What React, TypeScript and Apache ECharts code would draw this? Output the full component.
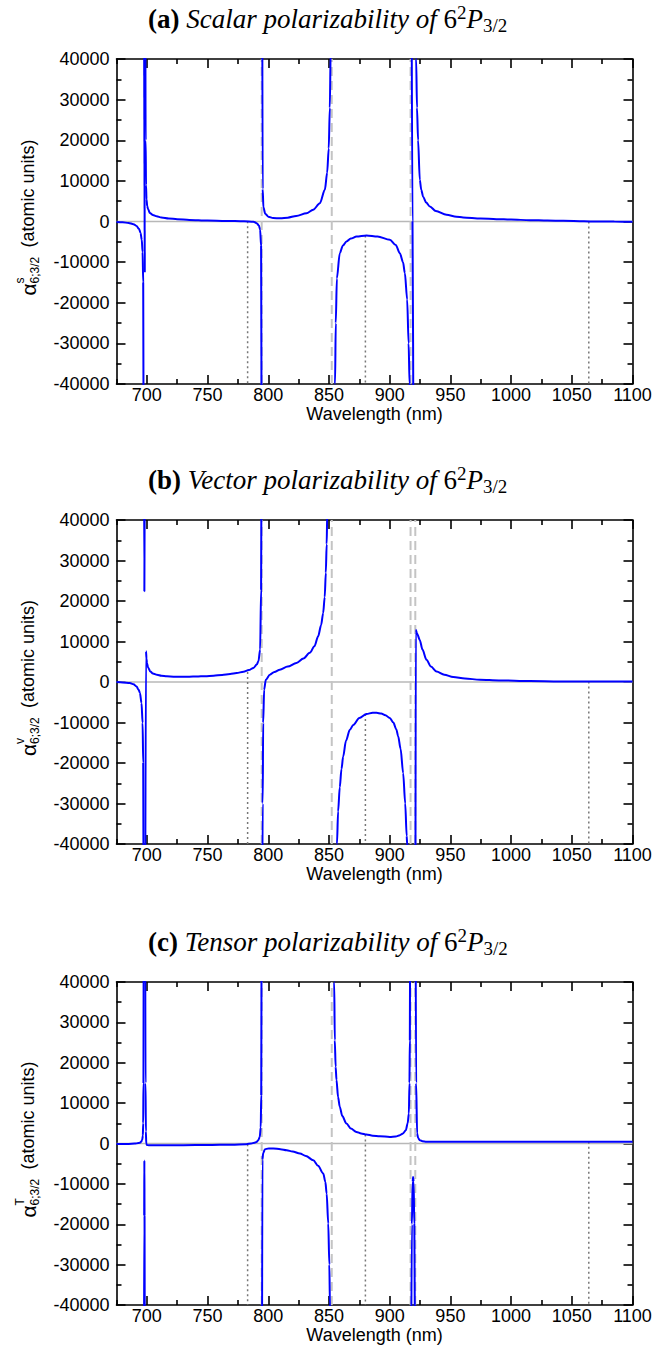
import React, { useEffect, useRef } from "react";
import * as echarts from "echarts";

// ---------- axis ticks ----------
const xMajorTicks = [700, 750, 800, 850, 900, 950, 1000, 1050, 1100];
const xMinorTicks = [675, 725, 775, 825, 875, 925, 975, 1025, 1075];
const xMin = 675;
const xMax = 1100;
const yMin = -40000;
const yMax = 40000;
const yStep = 10000;

// ---------- panel titles ----------
const panelLetters = ["(a)", "(b)", "(c)"];
const panelKinds = ["Scalar", "Vector", "Tensor"];
const panelSups = ["s", "v", "T"];

// ---------- reference lines ----------
const resonancesA = [794.6, 852.3, 917.2];
const resonancesB = [794.6, 852.3, 917.2, 921.1];
const resonancesC = [794.6, 852.3, 917.2, 921.1];
const magicA = [[783, 50], [880, -3450], [1064, 0]];
const magicB = [[783, 2500], [880, -7900], [1064, 100]];
const magicC = [[783, -170], [880, 2230], [1064, 450]];

// ---------- (a) scalar polarizability segments ----------
const scalar1 = [[675, -100], [680, -200], [685, -350], [689, -650], [691.5, -1100], [693.5, -1800], [694.8, -2800], [695.8, -4500], [696.5, -7500], [697.0, -15000], [697.3, -60000]];
const scalar2 = [[697.6, 60000], [698.3, -12500]];
const scalar3 = [[698.7, 60000], [699.0, 20000], [699.3, 9000], [699.7, 5500], [700.3, 3800], [701, 3000], [702.5, 2100], [705, 1600], [708, 1300], [712, 1000], [718, 750], [725, 550], [735, 400], [750, 250], [765, 150], [780, 60], [787.8, -50], [790.5, -400], [792.3, -1000], [793.3, -2000], [794.1, -6000], [794.5, -60000]];
const scalar4 = [[795.0, 60000], [795.4, 8000], [796, 3500], [797.5, 1900], [800, 1200], [804, 850], [810, 800], [816, 950], [823, 1350], [831.5, 2050], [837, 2900], [842.5, 4500], [846.6, 7800], [848.5, 12000], [849.8, 18000], [850.7, 28000], [851.4, 42000], [851.7, 60000]];
const scalar5 = [[854.5, -60000], [855, -40000], [855.6, -25000], [856.5, -14000], [858.9, -7800], [861.5, -5900], [864.4, -4900], [868, -4200], [872.7, -3700], [880.9, -3450], [890, -3700], [900.1, -4500], [905, -5800], [908.4, -7800], [911, -10000], [912.5, -12700], [914.4, -19200], [915.6, -30000], [916.4, -40000], [916.9, -60000]];
const scalar6 = [[918.0, 60000], [918.8, 0], [919.6, -60000]];
const scalar7 = [[921.3, 60000], [921.8, 40000], [922.5, 28000], [923.4, 20000], [924.8, 10300], [926, 7800], [927.6, 6100], [930, 4700], [933.1, 3700], [938, 2600], [946.8, 1650], [955, 1200], [960.5, 1000], [975, 750], [988, 580], [1000, 470], [1015.5, 330], [1030, 230], [1043, 160], [1060, 60], [1070, 0], [1085, -30], [1100, -50]];

// ---------- (b) vector polarizability segments ----------
const vector1 = [[675, 0], [680, -100], [686, -250], [689, -550], [691.5, -1100], [693.2, -1900], [694.3, -2700], [695.6, -5200], [696.5, -10100], [697.0, -20000], [697.3, -60000]];
const vector2 = [[697.6, 60000], [697.95, 22400], [698.3, 60000]];
const vector3 = [[698.6, -60000], [699.3, 7600], [699.7, 5800], [700.1, 4700], [701, 3600], [702.8, 2600], [705, 2100], [708.3, 1800], [712, 1550], [716.5, 1400], [722, 1320], [727.5, 1300], [735, 1310], [741, 1350], [748, 1450], [755, 1560], [762, 1750], [768.6, 1970], [774, 2200], [779.6, 2540], [784, 2950], [787.8, 3460], [790.5, 4300], [791.9, 5100], [793.3, 8000], [794.1, 22800], [794.4, 60000]];
const vector4 = [[795.0, -60000], [795.4, -30000], [795.8, -10100], [796.6, -1900], [798, 570], [801.3, 1800], [805, 2500], [809.5, 3050], [816, 3800], [823.2, 4700], [829, 5800], [834.2, 7200], [838, 8800], [841.1, 11300], [843.5, 14000], [845.2, 17000], [846.5, 21000], [847.4, 27000], [848.1, 34000], [848.6, 42000], [849, 60000]];
const vector5 = [[856.3, -60000], [856.6, -40000], [857.5, -32000], [858.9, -26000], [860.3, -21500], [861.7, -18400], [864, -14500], [867.2, -11800], [870, -10600], [875, -8900], [880.9, -7900], [886, -7600], [889.2, -7600], [893, -7800], [896.5, -8200], [900.1, -8900], [903, -10000], [905.5, -11700], [907, -13400], [909, -16500], [911.1, -22500], [912.8, -30000], [914, -38000], [914.4, -40000], [914.8, -60000]];
const vector6 = [[921.2, -60000], [921.5, 12900], [922.5, 12000], [924.8, 10400], [927, 8000], [930.3, 5500], [934, 3800], [938.6, 2600], [945, 1800], [952.3, 1230], [962, 850], [974.3, 570], [990, 400], [1015.5, 250], [1040, 150], [1070.4, 100], [1100, 150]];

// ---------- (c) tensor polarizability segments ----------
const tensor1 = [[675, -150], [685, -100], [690, -30], [693, 100], [694.5, 250], [695.5, 500], [696.2, 900], [696.7, 2000], [697.0, 5000], [697.2, 15000], [697.4, 60000]];
const tensor2 = [[697.6, -60000], [697.8, -18000], [697.95, -4200], [698.1, -18000], [698.3, -60000]];
const tensor3 = [[698.6, 60000], [698.9, 15000], [699.2, 3000], [699.5, 0], [700, -350], [702, -450], [710, -450], [730, -420], [750, -380], [770, -280], [782, -170], [786, 0], [788.5, 200], [790.3, 400], [791.8, 800], [793, 1640], [793.8, 4000], [794.2, 12000], [794.5, 60000]];
const tensor4 = [[794.8, -60000], [795.2, -4000], [795.8, -2400], [797.3, -1400], [800, -1250], [804.2, -1240], [810, -1400], [815.2, -1660], [820, -2000], [826.1, -2480], [831, -3100], [837.1, -4130], [841, -5500], [845.3, -7430], [847, -9500], [848.1, -12400], [849.4, -19800], [850.3, -30000], [850.8, -40000], [851.2, -60000]];
const tensor5 = [[854.0, 60000], [854.3, 40000], [854.8, 25600], [855.5, 19000], [856.2, 15700], [857.5, 11500], [858.9, 9060], [861, 6800], [864.4, 4950], [868, 3700], [872.6, 2870], [876.5, 2500], [880.9, 2230], [886, 1950], [891.9, 1810], [900.1, 1640], [905, 1750], [908.4, 2050], [911, 2500], [913.3, 3290], [914.8, 5000], [915.8, 7430], [916.3, 15000], [916.6, 25600], [916.9, 60000]];
const tensor6 = [[917.6, -60000], [918.3, -20000], [918.9, -9500], [919.3, -8300], [919.7, -9500], [920.3, -20000], [920.9, -60000]];
const tensor7 = [[921.3, 60000], [921.8, 15000], [922.6, 2470], [923.5, 1300], [924.8, 820], [927, 550], [930.3, 450], [950, 450], [1000, 450], [1050, 450], [1100, 450]];

const panelSegments = [
  [scalar1, scalar2, scalar3, scalar4, scalar5, scalar6, scalar7],
  [vector1, vector2, vector3, vector4, vector5, vector6],
  [tensor1, tensor2, tensor3, tensor4, tensor5, tensor6, tensor7],
];
const panelResonances = [resonancesA, resonancesB, resonancesC];
const panelMagic = [magicA, magicB, magicC];

// ---------- layout ----------
const gridLeft = 116.5;
const gridWidth = 516;
const gridTops = [59, 520, 982];
const gridHeights = [325, 324, 323];
const FONT = "Liberation Sans";
const SERIF = "Liberation Serif";

function buildOption() {
  const grids: any[] = [];
  const xAxes: any[] = [];
  const yAxes: any[] = [];
  const series: any[] = [];
  const graphics: any[] = [];

  const black = { color: "#000", width: 1.6 };
  const plain = (v: number) => String(v);

  for (let p = 0; p < 3; p++) {
    grids.push({ left: gridLeft, top: gridTops[p], width: gridWidth, height: gridHeights[p], containLabel: false });
    const baseX = {
      type: "value", gridIndex: p, min: xMin, max: xMax,
      splitLine: { show: false },
    };
    xAxes.push({
      ...baseX, position: "bottom",
      axisLine: { show: true, onZero: false, lineStyle: black },
      axisTick: { show: true, inside: true, length: 9, customValues: xMajorTicks, lineStyle: black },
      axisLabel: { show: true, customValues: xMajorTicks, formatter: plain, margin: 2, fontSize: 18, color: "#000", fontFamily: FONT },
      name: "Wavelength (nm)", nameLocation: "middle", nameGap: 14,
      nameTextStyle: { fontSize: 18, color: "#000", fontFamily: FONT },
    });
    xAxes.push({
      ...baseX, position: "bottom",
      axisLine: { show: false, onZero: false },
      axisTick: { show: true, inside: true, length: 5, customValues: xMinorTicks, lineStyle: black },
      axisLabel: { show: false },
    });
    xAxes.push({
      ...baseX, position: "top",
      axisLine: { show: true, onZero: false, lineStyle: black },
      axisTick: { show: true, inside: true, length: 9, customValues: xMajorTicks, lineStyle: black },
      axisLabel: { show: false },
    });
    xAxes.push({
      ...baseX, position: "top",
      axisLine: { show: false, onZero: false },
      axisTick: { show: true, inside: true, length: 5, customValues: xMinorTicks, lineStyle: black },
      axisLabel: { show: false },
    });
    const baseY = {
      type: "value", gridIndex: p, min: yMin, max: yMax, interval: yStep,
      splitLine: { show: false },
      axisLine: { show: true, onZero: false, lineStyle: black },
      axisTick: { show: true, inside: true, length: 9, lineStyle: black },
      minorTick: { show: true, splitNumber: 2, length: 5, lineStyle: black },
    };
    yAxes.push({
      ...baseY, position: "left",
      axisLabel: { show: true, formatter: plain, margin: 7, fontSize: 18, color: "#000", fontFamily: FONT },
    });
    yAxes.push({ ...baseY, position: "right", axisLabel: { show: false } });

    const xi = p * 4;
    const yi = p * 2;
    const common = { type: "line", xAxisIndex: xi, yAxisIndex: yi, showSymbol: false, symbol: "none", silent: true, clip: true, animation: false };

    series.push({
      ...common, name: `zero${p}`, z: 1,
      data: [[xMin, 0], [xMax, 0]],
      lineStyle: { color: "#b8b8b8", width: 1.5 },
    });
    panelResonances[p].forEach((r, i) => {
      series.push({
        ...common, name: `res${p}_${i}`, z: 2,
        data: [[r, yMin], [r, yMax]],
        lineStyle: { color: "#c4c4c4", width: 2, type: [9, 5] },
      });
    });
    panelMagic[p].forEach((m, i) => {
      series.push({
        ...common, name: `magic${p}_${i}`, z: 2,
        data: [[m[0], m[1]], [m[0], yMin]],
        lineStyle: { color: "#777", width: 1.5, type: [2, 3] },
      });
    });
    panelSegments[p].forEach((seg, i) => {
      series.push({
        ...common, name: `curve${p}_${i}`, z: 5,
        data: seg,
        smooth: 0.3, smoothMonotone: "x",
        lineStyle: { color: "#0000ff", width: 2 },
      });
    });

    // title
    const titleCenterY = gridTops[p] - 40;
    graphics.push({
      type: "text", x: 148, y: titleCenterY, silent: true,
      style: {
        text: `{b|${panelLetters[p]}}{i| ${panelKinds[p]} polarizability of }{r|6}{sup|2}{i|P}{sub|3/2}`,
        align: "left", verticalAlign: "middle", textAlign: "left", textVerticalAlign: "middle",
        fill: "#000",
        rich: {
          b: { fontFamily: SERIF, fontSize: 27, fontWeight: "bold", lineHeight: 32, fill: "#000" },
          i: { fontFamily: SERIF, fontSize: 27, fontStyle: "italic", lineHeight: 32, fill: "#000" },
          r: { fontFamily: SERIF, fontSize: 27, lineHeight: 32, fill: "#000" },
          sup: { fontFamily: SERIF, fontSize: 19, lineHeight: 18, verticalAlign: "top", fill: "#000" },
          sub: { fontFamily: SERIF, fontSize: 19, lineHeight: 18, verticalAlign: "bottom", fill: "#000" },
        },
      },
    });

    // y-axis name
    const zeroY = gridTops[p] + gridHeights[p] / 2;
    graphics.push({
      type: "group", x: 28, y: zeroY + 74, rotation: Math.PI / 2, silent: true,
      children: [
        { type: "text", x: 0, y: 0, style: { text: "α", fontSize: 21, fontFamily: FONT, fill: "#000", align: "left", verticalAlign: "middle", textAlign: "left", textVerticalAlign: "middle" } },
        { type: "text", x: 12, y: -8, style: { text: panelSups[p], fontSize: 12, fontFamily: FONT, fill: "#000", align: "left", verticalAlign: "middle", textAlign: "left", textVerticalAlign: "middle" } },
        { type: "text", x: 12, y: 7, style: { text: "6;3/2", fontSize: 12, fontFamily: FONT, fill: "#000", align: "left", verticalAlign: "middle", textAlign: "left", textVerticalAlign: "middle" } },
        { type: "text", x: 48, y: 0, style: { text: "(atomic units)", fontSize: 18, fontFamily: FONT, fill: "#000", align: "left", verticalAlign: "middle", textAlign: "left", textVerticalAlign: "middle" } },
      ],
    });
  }

  return {
    animation: false,
    backgroundColor: "#fff",
    grid: grids,
    xAxis: xAxes,
    yAxis: yAxes,
    series,
    graphic: graphics,
  };
}

export default function App() {
  const ref = useRef<HTMLDivElement>(null);
  useEffect(() => {
    if (!ref.current) return;
    const chart = echarts.init(ref.current, undefined, { renderer: "svg" });
    chart.setOption(buildOption() as any);
    return () => chart.dispose();
  }, []);
  return (
    <div
      ref={ref}
      style={{ position: "absolute", left: 0, top: 0, width: 657, height: 1360, background: "#fff" }}
    />
  );
}
